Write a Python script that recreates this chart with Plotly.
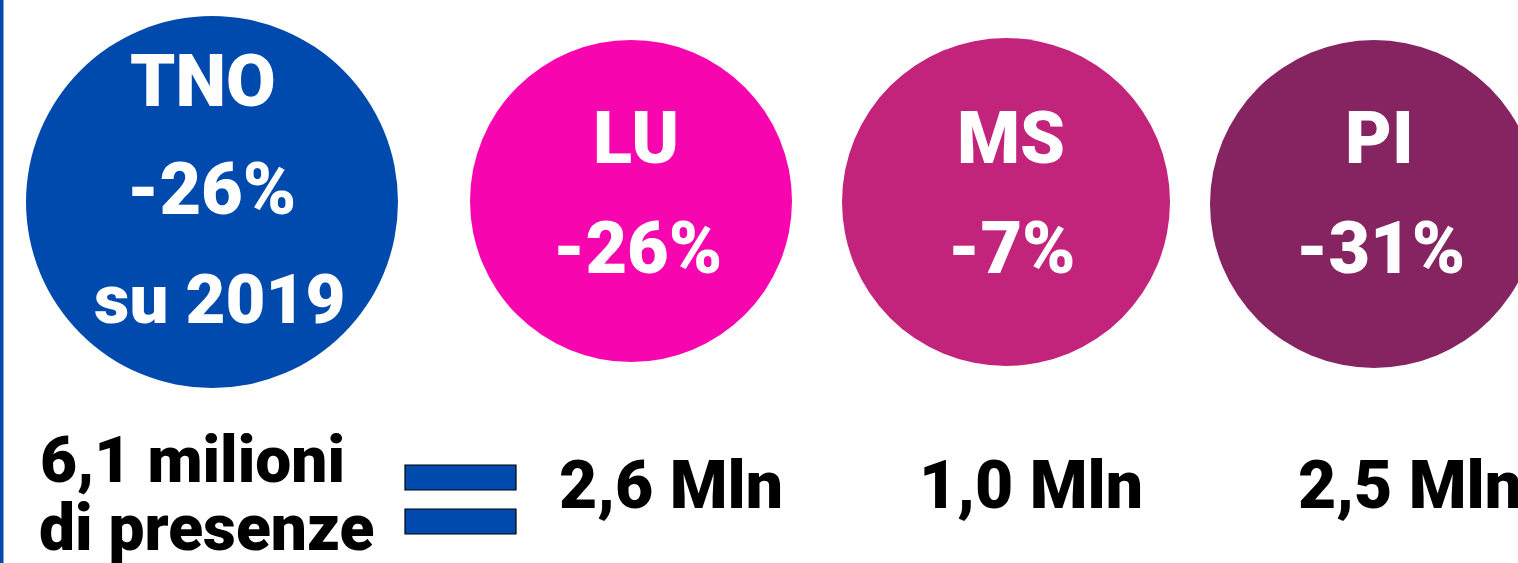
import plotly.graph_objects as go

# ---- data ----
areas = ["TNO", "LU", "MS", "PI"]
changes = ["-26%", "-26%", "-7%", "-31%"]
presenze_mln = [6.1, 2.6, 1.0, 2.5]
base_year = "2019"

# ---- style / layout ----
colors = ["#004AAD", "#F706AF", "#C3247B", "#862462"]
cx = [212, 631, 1006, 1374]
cy = [202, 201, 202, 204]
diam = [372, 322, 328, 328]
W, H = 1518, 563
FONT = "Roboto"

fig = go.Figure()
fig.add_trace(go.Scatter(
    x=cx, y=cy, mode="markers",
    marker=dict(size=diam, color=colors, opacity=1, line=dict(width=0)),
    hoverinfo="skip", showlegend=False, cliponaxis=False,
))

def fmt(v):
    return f"{v:.1f}".replace(".", ",")

ann = []
def add(text, x, y, size, color="white"):
    ann.append(dict(text=text, x=x, y=y, xref="x", yref="y", showarrow=False,
                    xanchor="center", yanchor="middle",
                    font=dict(family=FONT, size=size, color=color, weight=900)))

CS = 72
# TNO big circle
add(areas[0], 203, 81, CS)
add(changes[0], 211, 189, CS)
add("su " + base_year, 219, 299, 69)
# other circles
for i in range(1, 4):
    add(areas[i], cx[i] + 5, 138, CS)
    add(changes[i], cx[i] + 6, 248, CS)

BS = 66
add(f"{fmt(presenze_mln[0])} milioni", 192, 460, 64, "black")
add("di presenze", 206, 528, 64, "black")
bx = [671, 1031, 1410]
for i in range(1, 4):
    add(f"{fmt(presenze_mln[i])} Mln", bx[i - 1], 485, BS, "black")

shapes = [
    dict(type="rect", xref="x", yref="y", x0=0, x1=3.5, y0=0, y1=H,
         fillcolor="#004AAD", line=dict(width=0)),
    dict(type="rect", xref="x", yref="y", x0=405, x1=516, y0=465, y1=490,
         fillcolor="#004AAD", line=dict(color="black", width=1.2)),
    dict(type="rect", xref="x", yref="y", x0=405, x1=516, y0=509, y1=534,
         fillcolor="#004AAD", line=dict(color="black", width=1.2)),
]

fig.update_layout(
    width=W, height=H, margin=dict(l=0, r=0, t=0, b=0),
    paper_bgcolor="white", plot_bgcolor="white",
    xaxis=dict(range=[0, W], visible=False, fixedrange=True),
    yaxis=dict(range=[H, 0], visible=False, fixedrange=True),
    annotations=ann, shapes=shapes, showlegend=False,
)
fig.write_html(
    "out.html",
    config={"displayModeBar": False},
    post_script="document.body.style.margin='0';document.body.style.padding='0';document.body.style.overflow='hidden';",
)
